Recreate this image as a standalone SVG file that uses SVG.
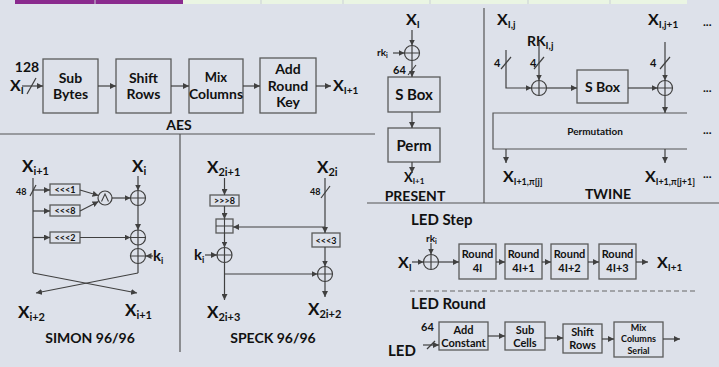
<svg xmlns="http://www.w3.org/2000/svg" width="719" height="367" viewBox="0 0 719 367">
<defs>
<style>
.t{font-family:Lato,"Open Sans","Liberation Sans",sans-serif;font-weight:bold;fill:#111}
.ln{stroke:#404040;stroke-width:1.2;fill:none}
.ar{stroke:#404040;stroke-width:1.2;fill:none;marker-end:url(#ah)}
.box{fill:#dde1ea;stroke:#5a5a5a;stroke-width:1.3}
.sep{stroke:#555;stroke-width:1.2;fill:none}
</style>
<marker id="ah" markerUnits="userSpaceOnUse" markerWidth="6" markerHeight="6" refX="6" refY="3" orient="auto">
<path d="M0,0 L6,3 L0,6 z" fill="#404040"/>
</marker>
<g id="xor">
<circle cx="0" cy="0" r="7.5" fill="none" stroke="#404040" stroke-width="1.2"/>
<path d="M-7.5,0 H7.5 M0,-7.5 V7.5" stroke="#404040" stroke-width="1.2"/>
</g>
</defs>
<rect width="719" height="367" fill="#dde1ea"/>
<g id="topstrip">
<rect x="15" y="0" width="168" height="4" fill="#8a2a8e"/>
<rect x="183" y="0" width="504" height="4" fill="#eaf5e3"/>
<path d="M95,0 V4 M261,0 V4 M343,0 V4 M430,0 V4 M528,0 V4 M610,0 V4" stroke="#c9cfd6" stroke-width="1"/>
</g>
<g id="separators">
<path class="sep" d="M0,134 H375 M180,134 V352 M484,8 V203 M367,203 H719"/>
<path d="M410,291 H698" stroke="#666" stroke-width="1" stroke-dasharray="5,3"/>
</g>

<!-- AES -->
<g id="aes-input">
<text class="t" x="27" y="72" font-size="14" text-anchor="middle">128</text>
<text class="t" x="10" y="91" font-size="16">X<tspan font-size="10" dy="3">I</tspan></text>
</g>
<g id="aes-subbytes"><rect class="box" x="43" y="59" width="55" height="54"/>
<text class="t" x="70.5" y="83" font-size="14" text-anchor="middle">Sub</text>
<text class="t" x="70.5" y="99" font-size="14" text-anchor="middle">Bytes</text></g>
<g id="aes-shiftrows"><rect class="box" x="116" y="59" width="55" height="54"/>
<text class="t" x="143.5" y="83" font-size="14" text-anchor="middle">Shift</text>
<text class="t" x="143.5" y="99" font-size="14" text-anchor="middle">Rows</text></g>
<g id="aes-mixcolumns"><rect class="box" x="189" y="59" width="54" height="54"/>
<text class="t" x="216" y="82" font-size="13" text-anchor="middle">Mix</text>
<text class="t" x="216" y="99" font-size="14" textLength="54" lengthAdjust="spacingAndGlyphs" text-anchor="middle">Columns</text></g>
<g id="aes-addroundkey"><rect class="box" x="260" y="58" width="56" height="55"/>
<text class="t" x="288" y="74" font-size="14" text-anchor="middle">Add</text>
<text class="t" x="288" y="91" font-size="14" text-anchor="middle">Round</text>
<text class="t" x="288" y="107" font-size="14" text-anchor="middle">Key</text></g>
<g id="aes-output"><text class="t" x="333" y="91" font-size="16">X<tspan font-size="10" dy="3">I+1</tspan></text></g>
<g id="aes-title"><text class="t" x="179" y="130" font-size="14" text-anchor="middle">AES</text></g>

<!-- PRESENT -->
<g id="present-in"><text class="t" x="406" y="25" font-size="16">X<tspan font-size="10" dy="3">I</tspan></text></g>
<g id="present-xor"><use href="#xor" x="412" y="53"/></g>
<g id="present-rk"><text class="t" x="377" y="56" font-size="10">rk<tspan font-size="7" dy="2">i</tspan></text>
<text class="t" x="393" y="74" font-size="11">64</text></g>
<g id="present-sbox"><rect class="box" x="388" y="77" width="52" height="35"/>
<text class="t" x="414" y="100" font-size="15" text-anchor="middle">S Box</text></g>
<g id="present-perm"><rect class="box" x="388" y="128" width="52" height="34"/>
<text class="t" x="414" y="151" font-size="15" text-anchor="middle">Perm</text></g>
<g id="present-out"><text class="t" x="404" y="182" font-size="13">X<tspan font-size="8" dy="2">I+1</tspan></text></g>
<g id="present-title"><text class="t" x="415" y="201" font-size="14" text-anchor="middle">PRESENT</text></g>

<!-- TWINE -->
<g id="twine-in1"><text class="t" x="497" y="25" font-size="16">X<tspan font-size="10" dy="3">I,j</tspan></text>
<text class="t" x="494" y="67" font-size="11">4</text></g>
<g id="twine-rk"><text class="t" x="527" y="46" font-size="14">RK<tspan font-size="10" dy="3">I,j</tspan></text>
<text class="t" x="530" y="67" font-size="11">4</text></g>
<g id="twine-in2"><text class="t" x="648" y="25" font-size="16">X<tspan font-size="10" dy="3">I,j+1</tspan></text>
<text class="t" x="650" y="67" font-size="11">4</text></g>
<g id="twine-xor1"><use href="#xor" x="539" y="88"/></g>
<g id="twine-sbox"><rect class="box" x="577" y="70" width="51" height="33"/>
<text class="t" x="602.5" y="92" font-size="14" text-anchor="middle">S Box</text></g>
<g id="twine-xor2"><use href="#xor" x="665" y="88"/></g>
<g id="twine-perm"><path class="sep" d="M687,113 H493 V149 H687"/>
<text class="t" x="595" y="135" font-size="10" text-anchor="middle">Permutation</text></g>
<g id="twine-out1"><text class="t" x="503" y="182" font-size="16">X<tspan font-size="9" dy="3">I+1,π[j]</tspan></text></g>
<g id="twine-out2"><text class="t" x="645" y="182" font-size="16">X<tspan font-size="9" dy="3">I+1,π[j+1]</tspan></text></g>
<g id="twine-dots">
<text class="t" x="703" y="26" font-size="12">...</text>
<text class="t" x="703" y="92" font-size="12">...</text>
<text class="t" x="703" y="134" font-size="12">...</text>
<text class="t" x="703" y="178" font-size="12">...</text>
</g>
<g id="twine-title"><text class="t" x="608" y="199" font-size="14" text-anchor="middle">TWINE</text></g>

<!-- SIMON -->
<g id="simon-in1"><text class="t" x="22" y="172" font-size="17">X<tspan font-size="11" dy="3">i+1</tspan></text>
<text class="t" x="16" y="195" font-size="9">48</text></g>
<g id="simon-in2"><text class="t" x="132" y="172" font-size="17">X<tspan font-size="11" dy="3">i</tspan></text></g>
<g id="simon-rot1"><rect class="box" x="50" y="184" width="30" height="11"/>
<text class="t" x="65" y="193" font-size="9" text-anchor="middle">&lt;&lt;&lt;1</text></g>
<g id="simon-rot8"><rect class="box" x="50" y="205" width="30" height="11"/>
<text class="t" x="65" y="214" font-size="9" text-anchor="middle">&lt;&lt;&lt;8</text></g>
<g id="simon-rot2"><rect class="box" x="50" y="232" width="30" height="11"/>
<text class="t" x="65" y="241" font-size="9" text-anchor="middle">&lt;&lt;&lt;2</text></g>
<g id="simon-and"><circle cx="105" cy="198" r="7" fill="none" stroke="#404040" stroke-width="1.2"/>
<path d="M101.5,201.5 L105,194 L108.5,201.5" stroke="#404040" stroke-width="1.1" fill="none"/></g>
<g id="simon-xor1"><use href="#xor" x="138" y="198"/></g>
<g id="simon-xor2"><use href="#xor" x="138" y="237.5"/></g>
<g id="simon-xor3"><use href="#xor" x="138" y="256"/></g>
<g id="simon-key"><text class="t" x="153" y="261" font-size="15">k<tspan font-size="9" dy="3">i</tspan></text></g>
<g id="simon-out1"><text class="t" x="18" y="318" font-size="17">X<tspan font-size="11" dy="3">i+2</tspan></text></g>
<g id="simon-out2"><text class="t" x="125" y="316" font-size="17">X<tspan font-size="11" dy="3">i+1</tspan></text></g>
<g id="simon-title"><text class="t" x="90" y="343" font-size="14" text-anchor="middle">SIMON 96/96</text></g>

<!-- SPECK -->
<g id="speck-in1"><text class="t" x="207" y="173" font-size="17">X<tspan font-size="11" dy="3">2i+1</tspan></text></g>
<g id="speck-in2"><text class="t" x="317" y="173" font-size="17">X<tspan font-size="11" dy="3">2i</tspan></text>
<text class="t" x="310" y="195" font-size="9">48</text></g>
<g id="speck-rot8"><rect class="box" x="210" y="195" width="29" height="11"/>
<text class="t" x="224.5" y="204" font-size="9" text-anchor="middle">&gt;&gt;&gt;8</text></g>
<g id="speck-add"><rect class="box" x="216" y="219" width="17" height="14"/>
<path d="M216,226 H233 M224.5,219 V233" stroke="#404040" stroke-width="1.1"/></g>
<g id="speck-rot3"><rect class="box" x="312" y="233" width="28" height="14"/>
<text class="t" x="326" y="243.5" font-size="9" text-anchor="middle">&lt;&lt;&lt;3</text></g>
<g id="speck-xor1"><use href="#xor" x="224.5" y="255"/></g>
<g id="speck-xor2"><use href="#xor" x="325" y="274"/></g>
<g id="speck-key"><text class="t" x="194" y="260" font-size="15">k<tspan font-size="9" dy="3">i</tspan></text></g>
<g id="speck-out1"><text class="t" x="207" y="318" font-size="17">X<tspan font-size="11" dy="3">2i+3</tspan></text></g>
<g id="speck-out2"><text class="t" x="308" y="315" font-size="17">X<tspan font-size="11" dy="3">2i+2</tspan></text></g>
<g id="speck-title"><text class="t" x="273" y="343" font-size="14" text-anchor="middle">SPECK 96/96</text></g>

<!-- LED -->
<g id="led-step-title"><text class="t" x="411" y="225" font-size="15">LED Step</text></g>
<g id="led-in"><text class="t" x="398" y="268" font-size="16">X<tspan font-size="10" dy="3">I</tspan></text>
<text class="t" x="426" y="242" font-size="10">rk<tspan font-size="7" dy="2">i</tspan></text></g>
<g id="led-xor"><use href="#xor" x="431" y="262"/></g>
<g id="led-r0"><rect class="box" x="459" y="244" width="37" height="35"/>
<text class="t" x="477.5" y="258" font-size="11" text-anchor="middle">Round</text>
<text class="t" x="477.5" y="272" font-size="11" text-anchor="middle">4I</text></g>
<g id="led-r1"><rect class="box" x="505" y="244" width="37" height="35"/>
<text class="t" x="523.5" y="258" font-size="11" text-anchor="middle">Round</text>
<text class="t" x="523.5" y="272" font-size="11" text-anchor="middle">4I+1</text></g>
<g id="led-r2"><rect class="box" x="551" y="244" width="37" height="35"/>
<text class="t" x="569.5" y="258" font-size="11" text-anchor="middle">Round</text>
<text class="t" x="569.5" y="272" font-size="11" text-anchor="middle">4I+2</text></g>
<g id="led-r3"><rect class="box" x="599" y="244" width="37" height="35"/>
<text class="t" x="617.5" y="258" font-size="11" text-anchor="middle">Round</text>
<text class="t" x="617.5" y="272" font-size="11" text-anchor="middle">4I+3</text></g>
<g id="led-out"><text class="t" x="657" y="268" font-size="16">X<tspan font-size="10" dy="3">I+1</tspan></text></g>
<g id="led-round-title"><text class="t" x="411" y="309" font-size="15">LED Round</text>
<text class="t" x="421" y="331" font-size="11">64</text></g>
<g id="led-addconst"><rect class="box" x="439" y="322" width="49" height="28"/>
<text class="t" x="463.5" y="334" font-size="11" text-anchor="middle">Add</text>
<text class="t" x="463.5" y="347" font-size="11" text-anchor="middle">Constant</text></g>
<g id="led-subcells"><rect class="box" x="505" y="322" width="40" height="28"/>
<text class="t" x="525" y="334" font-size="11" text-anchor="middle">Sub</text>
<text class="t" x="525" y="347" font-size="11" text-anchor="middle">Cells</text></g>
<g id="led-shiftrows"><rect class="box" x="563" y="324" width="39" height="29"/>
<text class="t" x="582.5" y="336" font-size="11" text-anchor="middle">Shift</text>
<text class="t" x="582.5" y="349" font-size="11" text-anchor="middle">Rows</text></g>
<g id="led-mixcols"><rect class="box" x="614" y="322" width="49" height="35"/>
<text class="t" x="638.5" y="331" font-size="9" text-anchor="middle">Mix</text>
<text class="t" x="638.5" y="342" font-size="9" text-anchor="middle">Columns</text>
<text class="t" x="638.5" y="354" font-size="9" text-anchor="middle">Serial</text></g>
<g id="led-title"><text class="t" x="388" y="356" font-size="15">LED</text></g>

<g id="connectors">
<!-- AES -->
<path class="ar" d="M22,86 H43"/>
<path class="ln" d="M27,94 L36,78"/>
<path class="ar" d="M98,86 H116"/>
<path class="ar" d="M171,86 H189"/>
<path class="ar" d="M243,86 H260"/>
<path class="ar" d="M316,86 H331"/>
<!-- PRESENT -->
<path class="ar" d="M412,30 V45.5"/>
<path class="ar" d="M393,53 H404.5"/>
<path class="ar" d="M412,60.5 V77"/>
<path class="ln" d="M408,75 L416,65"/>
<path class="ar" d="M412,112 V128"/>
<path class="ar" d="M412,162 V173"/>
<!-- TWINE -->
<path class="ar" d="M506,50 V88 H531.5"/>
<path class="ln" d="M501,69 L511,57"/>
<path class="ar" d="M539,42 V80.5"/>
<path class="ln" d="M534,69 L544,57"/>
<path class="ar" d="M546.5,88 H577"/>
<path class="ar" d="M628,88 H657.5"/>
<path class="ar" d="M665,42 V80.5"/>
<path class="ln" d="M660,69 L670,57"/>
<path class="ar" d="M665,95.5 V113"/>
<path class="ar" d="M506,149 V163"/>
<path class="ar" d="M665,149 V163"/>
<!-- SIMON -->
<path class="ln" d="M33,178 V273"/>
<path class="ln" d="M30,196 L36,185"/>
<path class="ar" d="M33,190 H50"/>
<path class="ar" d="M33,211 H50"/>
<path class="ar" d="M33,237.5 H50"/>
<path class="ar" d="M80,190 L98.5,195.5"/>
<path class="ar" d="M80,211 L98.5,201.5"/>
<path class="ar" d="M112,198 H130.5"/>
<path class="ar" d="M138,176 V190.5"/>
<path class="ar" d="M138,205.5 V230"/>
<path class="ar" d="M80,237.5 H130.5"/>
<path class="ln" d="M138,245 V248.5"/>
<path class="ar" d="M153,256 H145.5"/>
<path class="ln" d="M138,263.5 V273"/>
<path class="ar" d="M33,273 L137,293"/>
<path class="ar" d="M138,273 L36,293"/>
<!-- SPECK -->
<path class="ar" d="M224.5,178 V195"/>
<path class="ar" d="M224.5,206 V219"/>
<path class="ar" d="M325,178 V233"/>
<path class="ln" d="M321,198 L330,186"/>
<path class="ar" d="M325,227 H233"/>
<path class="ar" d="M224.5,233 V247.5"/>
<path class="ar" d="M205,255 H217"/>
<path class="ar" d="M325,247 V266.5"/>
<path class="ar" d="M224.5,262.5 V300"/>
<path class="ar" d="M224.5,274 H317.5"/>
<path class="ar" d="M325,281.5 V297"/>
<!-- LED -->
<path class="ar" d="M431,243 V254.5"/>
<path class="ar" d="M412,262 H423.5"/>
<path class="ar" d="M438.5,262 H459"/>
<path class="ar" d="M496,262 H505"/>
<path class="ar" d="M542,262 H551"/>
<path class="ar" d="M588,262 H599"/>
<path class="ar" d="M636,262 H648"/>
<path class="ar" d="M423,345 H439"/>
<path class="ln" d="M427,349 L435,341"/>
<path class="ar" d="M488,336 H505"/>
<path class="ar" d="M545,338 H563"/>
<path class="ar" d="M602,339 H614"/>
<path class="ar" d="M663,339 H680"/>
</g>
</svg>
